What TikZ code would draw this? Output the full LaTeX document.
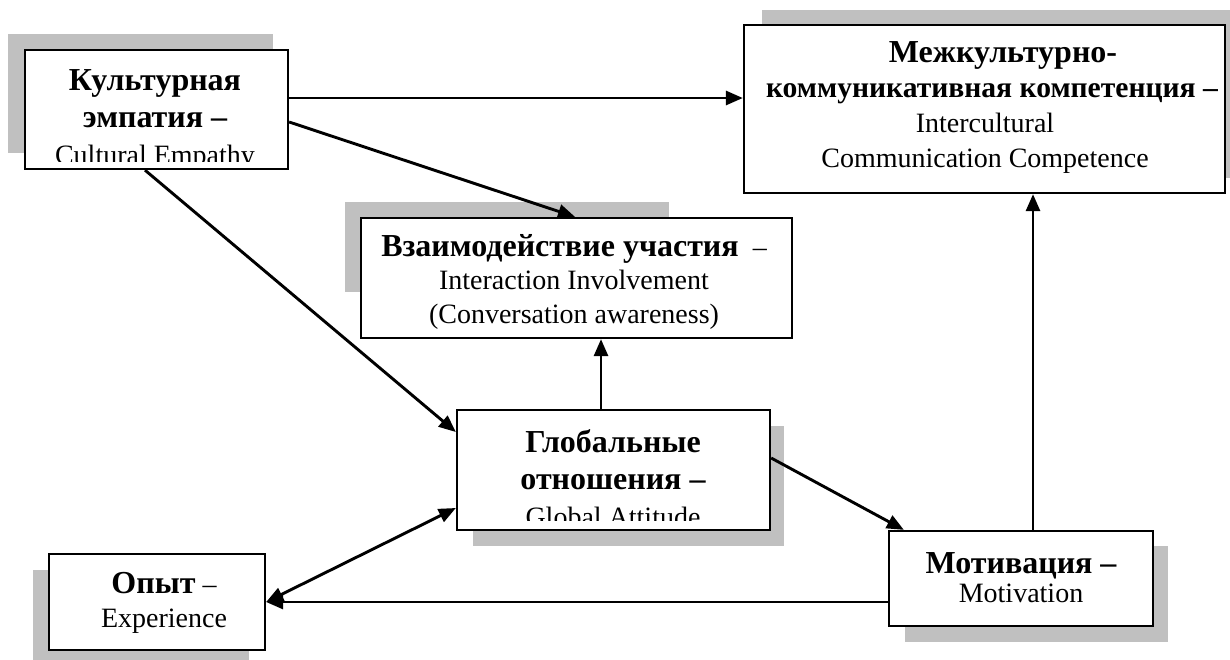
\documentclass[tikz,border=0pt]{standalone}
\usepackage{fontspec}
\setmainfont{Liberation Serif}
\usetikzlibrary{arrows.meta,calc}
\definecolor{shadowgray}{RGB}{192,192,192}
\newcommand{\hd}[1]{{\fontsize{32}{20}\selectfont\bfseries #1}}
\begin{document}
\begin{tikzpicture}[x=1pt,y=-1pt,
  shadowfill/.style={fill=shadowgray},
  box/.style={draw, line width=2.3pt, fill=white, inner sep=0pt},
  boxtext/.style={align=center, inner sep=0pt, anchor=base},
  conn/.style={line width=2.9pt, ->},
  >={Triangle[length=17pt,width=14pt]}
]
\useasboundingbox (0,0) rectangle (1230,659);

% drop shadows
\fill[shadowfill] (8,34) rectangle (273,153);
\fill[shadowfill] (762,10) rectangle (1243,178);
\fill[shadowfill] (345,202) rectangle (669,292);
\fill[shadowfill] (473,426) rectangle (784,546);
\fill[shadowfill] (905,546) rectangle (1168,642);
\fill[shadowfill] (33,570) rectangle (249,666);

% boxes
\node[box, minimum width=263pt, minimum height=119pt] (ce)  at (156.5,109.5) {};
\node[box, minimum width=481pt, minimum height=168pt] (icc) at (984.5,109) {};
\node[box, minimum width=431pt, minimum height=120pt] (ia)  at (576.5,278) {};
\node[box, minimum width=313pt, minimum height=120pt] (gl)  at (613.5,470) {};
\node[box, minimum width=264pt, minimum height=95pt]  (mot) at (1021,578.5) {};
\node[box, minimum width=216pt, minimum height=96pt]  (op)  at (157,602) {};

% box texts (each placed by the baseline of its last line)
\begin{scope}
  \clip (25,50) rectangle (288,161);
  \node[boxtext, font=\fontsize{28}{37}\selectfont] (ceT) at (155,164)
    {\hd{Культурная}\\\hd{эмпатия –}\\Cultural Empathy};
\end{scope}
\node[boxtext, font=\fontsize{28}{34.7}\selectfont] (iccT) at (985,167)
  {\hspace*{36pt}\hd{Межкультурно-}\\\hspace*{14pt}{\fontsize{29.6}{20}\selectfont\bfseries коммуникативная компетенция –}\\Intercultural\\Communication Competence};
\node[boxtext, font=\fontsize{28}{33.5}\selectfont] (iaT) at (574,323)
  {\hd{Взаимодействие участия}\ \ –\\Interaction Involvement\\(Conversation awareness)};
\begin{scope}
  \clip (457,410) rectangle (770,520);
  \node[boxtext, font=\fontsize{28}{37}\selectfont] (glT) at (613,526)
    {\hd{Глобальные}\\\hd{отношения –}\\Global Attitude};
\end{scope}
\node[boxtext, font=\fontsize{28}{29}\selectfont] (motT) at (1021,602)
  {\hd{Мотивация –}\\Motivation};
\node[boxtext, font=\fontsize{28}{34}\selectfont] (opT) at (164,627)
  {\hd{Опыт} –\\Experience};

% connectors
\coordinate (p1) at ([yshift=11.5pt]ce.east);
\draw[conn] (p1) -- (p1 -| icc.west);
\draw[conn] ([yshift=-12.5pt]ce.east) -- ([xshift=-1.5pt]ia.north);
\draw[conn] ([xshift=-11.5pt]ce.south) -- ([yshift=38pt]gl.west);
\coordinate (p4) at ([xshift=-12.5pt]gl.north);
\draw[conn] (p4) -- (p4 |- ia.south);
\draw[conn] ([yshift=12pt]gl.east) -- ([xshift=16pt]mot.north west);
\coordinate (p6) at ([xshift=12pt]mot.north);
\draw[conn] (p6) -- (p6 |- icc.south);
\draw[conn] (mot.west |- op.east) -- (op.east);
\draw[conn, <->] (op.east) -- ([yshift=-38pt]gl.west);
\end{tikzpicture}
\end{document}
